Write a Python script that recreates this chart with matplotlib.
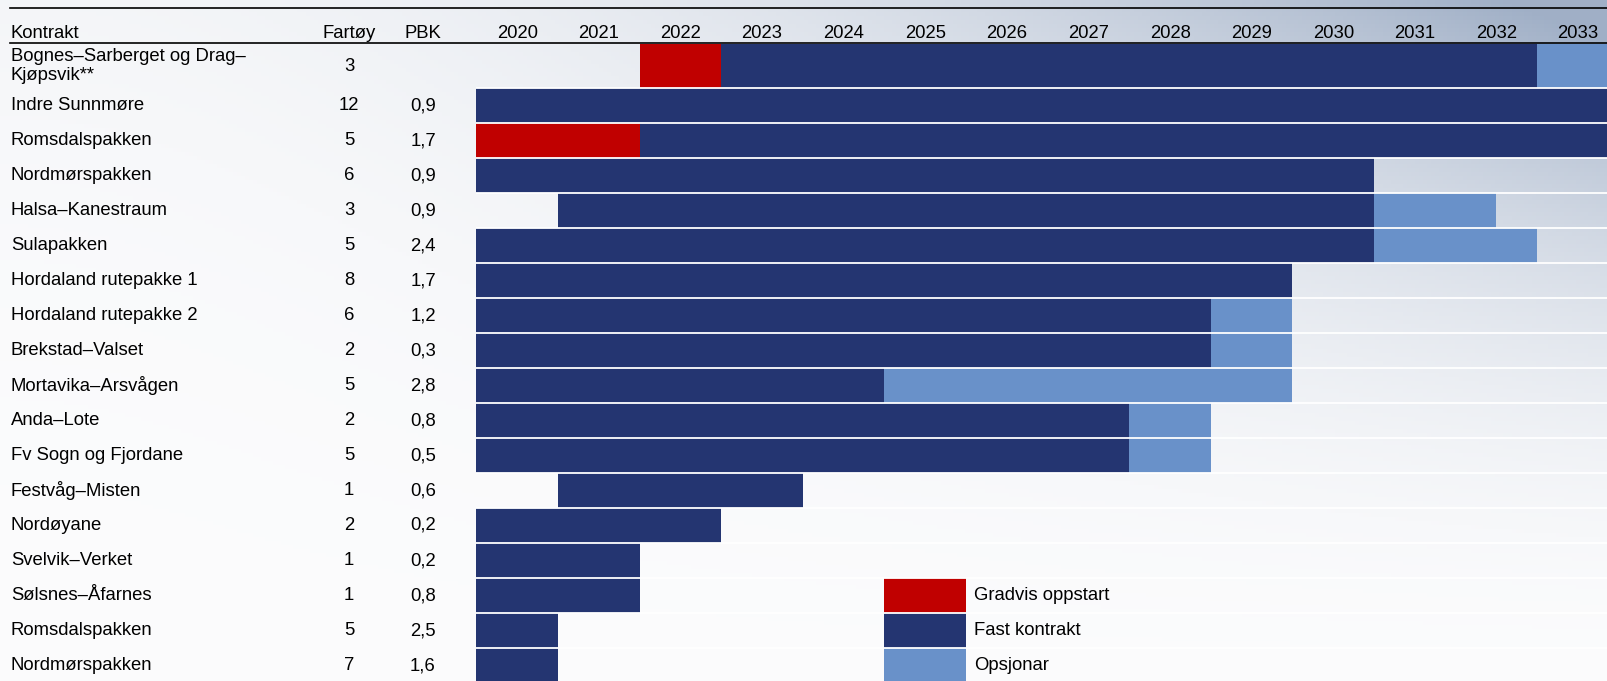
import numpy as np
import matplotlib
matplotlib.use("Agg")
from matplotlib import pyplot as plt
from matplotlib import transforms
from matplotlib.lines import Line2D

plt.rcParams['font.family'] = ['Liberation Sans', 'DejaVu Sans']

# table data
contracts = ["Bognes\u2013Sarberget og Drag\u2013\nKj\u00f8psvik**", "Indre Sunnm\u00f8re", "Romsdalspakken",
             "Nordm\u00f8rspakken", "Halsa\u2013Kanestraum", "Sulapakken", "Hordaland rutepakke 1",
             "Hordaland rutepakke 2", "Brekstad\u2013Valset", "Mortavika\u2013Arsv\u00e5gen", "Anda\u2013Lote",
             "Fv Sogn og Fjordane", "Festv\u00e5g\u2013Misten", "Nord\u00f8yane", "Svelvik\u2013Verket",
             "S\u00f8lsnes\u2013\u00c5farnes", "Romsdalspakken", "Nordm\u00f8rspakken"]
fartoy = [3, 12, 5, 6, 3, 5, 8, 6, 2, 5, 2, 5, 1, 2, 1, 1, 5, 7]
pbk = ["", "0,9", "1,7", "0,9", "0,9", "2,4", "1,7", "1,2", "0,3", "2,8", "0,8", "0,5",
       "0,6", "0,2", "0,2", "0,8", "2,5", "1,6"]
years = list(range(2020, 2034))

# periods (start year, end year); None = no period
gradvis = [(2022, 2023), None, (2020, 2022), None, None, None, None, None, None,
           None, None, None, None, None, None, None, None, None]
fast = [(2023, 2033), (2020, 2034), (2022, 2034), (2020, 2031), (2021, 2031), (2020, 2031),
        (2020, 2030), (2020, 2029), (2020, 2029), (2020, 2025), (2020, 2028), (2020, 2028),
        (2021, 2024), (2020, 2023), (2020, 2022), (2020, 2022), (2020, 2021), (2020, 2021)]
opsjon = [(2033, 2034), None, None, None, (2031, 2032.5), (2031, 2033), None, (2029, 2030),
          (2029, 2030), (2025, 2030), (2028, 2029), (2028, 2029), None, None, None, None, None, None]

legend_labels = ["Gradvis oppstart", "Fast kontrakt", "Opsjonar"]

RED = "#c00000"
NAVY = "#243571"
LIGHT = "#6991c9"
FS = 13.3

W, H = 1608, 681
fig = plt.figure(figsize=(W / 100, H / 100), dpi=100)

# background gradient
bg = fig.add_axes([0, 0, 1, 1])
xx, yy = np.meshgrid(np.linspace(0, 1, 400), np.linspace(0, 1, 170))
t = np.clip(1.05 * xx ** 2.0 * (1 - yy) ** 2.0 + 0.08 * (1 - yy) ** 3, 0, 1)
base = np.array([0.985, 0.986, 0.99])
tint = np.array([0.63, 0.69, 0.78])
img = base[None, None, :] * (1 - t[..., None]) + tint[None, None, :] * t[..., None]
bg.imshow(img, extent=[0, 1, 0, 1], aspect="auto", origin="upper")
bg.set_xlim(0, 1)
bg.set_ylim(0, 1)
bg.axis("off")

# table axes
x0_px, col_px, row_px, top_px, first_px = 476.5, 81.6, 35.0, 44.0, 44.0
n = len(contracts)
heights = [first_px / row_px] + [1.0] * (n - 1)
edges = np.concatenate([[0], np.cumsum(heights)])
centers = (edges[:-1] + edges[1:]) / 2

ax = fig.add_axes([x0_px / W, 0, 1 - x0_px / W, 1 - top_px / H])
ax.set_xlim(2020, 2020 + (W - x0_px) / col_px)
ax.set_ylim((H - top_px) / row_px, 0)
ax.patch.set_alpha(0)
ax.axis("off")

for series, color in [(gradvis, RED), (fast, NAVY), (opsjon, LIGHT)]:
    for i, p in enumerate(series):
        if p is None:
            continue
        ax.barh(centers[i], p[1] - p[0], left=p[0], height=heights[i], color=color,
                linewidth=0, zorder=2)

# legend as cells in the table
for k, (lab, color) in enumerate(zip(legend_labels, [RED, NAVY, LIGHT])):
    r = n - 3 + k
    ax.barh(centers[r], 1, left=2025, height=1, color=color, linewidth=0, zorder=2)
    ax.text(2026.1, centers[r], lab, va="center", ha="left", fontsize=FS, zorder=4)

# white row separators
for e in edges[1:]:
    ax.axhline(e, color="white", lw=1.3, zorder=3)

# header
hy = 1 - 34 / H
fig.add_artist(Line2D([10 / W, 1], [1 - 8 / H] * 2, color="black", lw=1.2))
fig.add_artist(Line2D([10 / W, 1], [1 - 43 / H] * 2, color="black", lw=1.2))
fig.text(11 / W, hy, "Kontrakt", ha="left", va="center", fontsize=FS)
fig.text(349 / W, hy, "Fart\u00f8y", ha="center", va="center", fontsize=FS)
fig.text(423 / W, hy, "PBK", ha="center", va="center", fontsize=FS)
tr_year = transforms.blended_transform_factory(ax.transData, fig.transFigure)
for yr in years:
    ax.text(yr + 0.5, hy, str(yr), transform=tr_year, ha="center", va="center",
            fontsize=FS, clip_on=False)

# left columns
tr_row = transforms.blended_transform_factory(fig.transFigure, ax.transData)
for i in range(n):
    ax.text(11 / W, centers[i], contracts[i], transform=tr_row, ha="left", va="center",
            fontsize=FS, linespacing=1.15, clip_on=False)
    ax.text(349 / W, centers[i], str(fartoy[i]), transform=tr_row, ha="center",
            va="center", fontsize=FS, clip_on=False)
    ax.text(423 / W, centers[i], pbk[i], transform=tr_row, ha="center", va="center",
            fontsize=FS, clip_on=False)

fig.savefig("out.png", dpi=100)
